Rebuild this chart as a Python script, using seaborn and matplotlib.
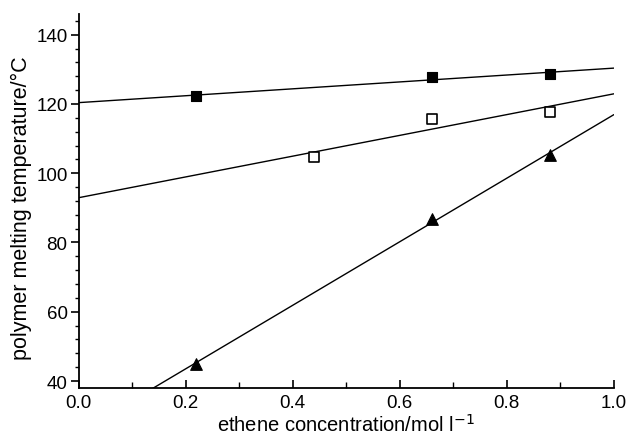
import matplotlib
matplotlib.use("Agg")
import matplotlib.pyplot as plt
from matplotlib.ticker import MultipleLocator, FormatStrFormatter
import seaborn as sns
import pandas as pd

# Ethene concentration (mol/l) and polymer melting temperature (°C)
conc_filled = [0.22, 0.66, 0.88]
tm_filled = [122.3, 127.8, 128.6]

conc_open = [0.44, 0.66, 0.88]
tm_open = [104.6, 115.8, 117.8]

conc_tri = [0.22, 0.66, 0.88]
tm_tri = [45.0, 86.8, 105.2]

sns.set_theme(style="ticks")
plt.rcParams["font.family"] = ["Liberation Sans", "DejaVu Sans"]

fig = plt.figure(figsize=(6.29, 4.39), dpi=100)
ax = fig.add_axes([0.125, 0.114, 0.851, 0.852])
ax.set_xlim(0.0, 1.0)
ax.set_ylim(38.0, 146.0)

series = [
    (conc_filled, tm_filled, dict(marker="s", s=60, facecolor="black", edgecolor="black", linewidth=0.8)),
    (conc_open, tm_open, dict(marker="s", s=42, facecolor="white", edgecolor="black", linewidth=1.2)),
    (conc_tri, tm_tri, dict(marker="^", s=70, facecolor="black", edgecolor="black", linewidth=0.8)),
]

for xs, ys, mk in series:
    df = pd.DataFrame({"x": xs, "y": ys})
    # least-squares line across the full x range
    sns.regplot(data=df, x="x", y="y", ax=ax, ci=None, truncate=False, scatter=False,
                line_kws=dict(color="black", lw=1.0, zorder=2))
    sns.scatterplot(data=df, x="x", y="y", ax=ax, zorder=3, legend=False, **mk)

ax.set_xlim(0.0, 1.0)
ax.set_ylim(38.0, 146.0)

for side in ("top", "right"):
    ax.spines[side].set_visible(False)
for side in ("left", "bottom"):
    ax.spines[side].set_linewidth(1.3)
    ax.spines[side].set_color("black")

ax.xaxis.set_major_locator(MultipleLocator(0.2))
ax.xaxis.set_minor_locator(MultipleLocator(0.1))
ax.yaxis.set_major_locator(MultipleLocator(20))
ax.yaxis.set_minor_locator(MultipleLocator(4))
ax.set_yticks([40, 60, 80, 100, 120, 140])
ax.xaxis.set_major_formatter(FormatStrFormatter("%.1f"))

ax.tick_params(axis="x", which="major", direction="in", length=6, width=1.2, colors="black",
               labelsize=13.5, pad=4)
ax.tick_params(axis="x", which="minor", direction="in", length=4, width=1.0, colors="black")
ax.tick_params(axis="y", which="major", direction="out", length=6, width=1.2, colors="black",
               labelsize=13.5, pad=2)
ax.tick_params(axis="y", which="minor", direction="out", length=3, width=1.0, colors="black")

ax.set_xlabel("ethene concentration/mol l$^{-1}$", fontsize=14.5, color="black", labelpad=2)
ax.set_ylabel("polymer melting temperature/°C", fontsize=15.5, color="black")
ax.yaxis.set_label_coords(-0.088, 0.484)

fig.savefig("out.png", dpi=100, facecolor="white")
